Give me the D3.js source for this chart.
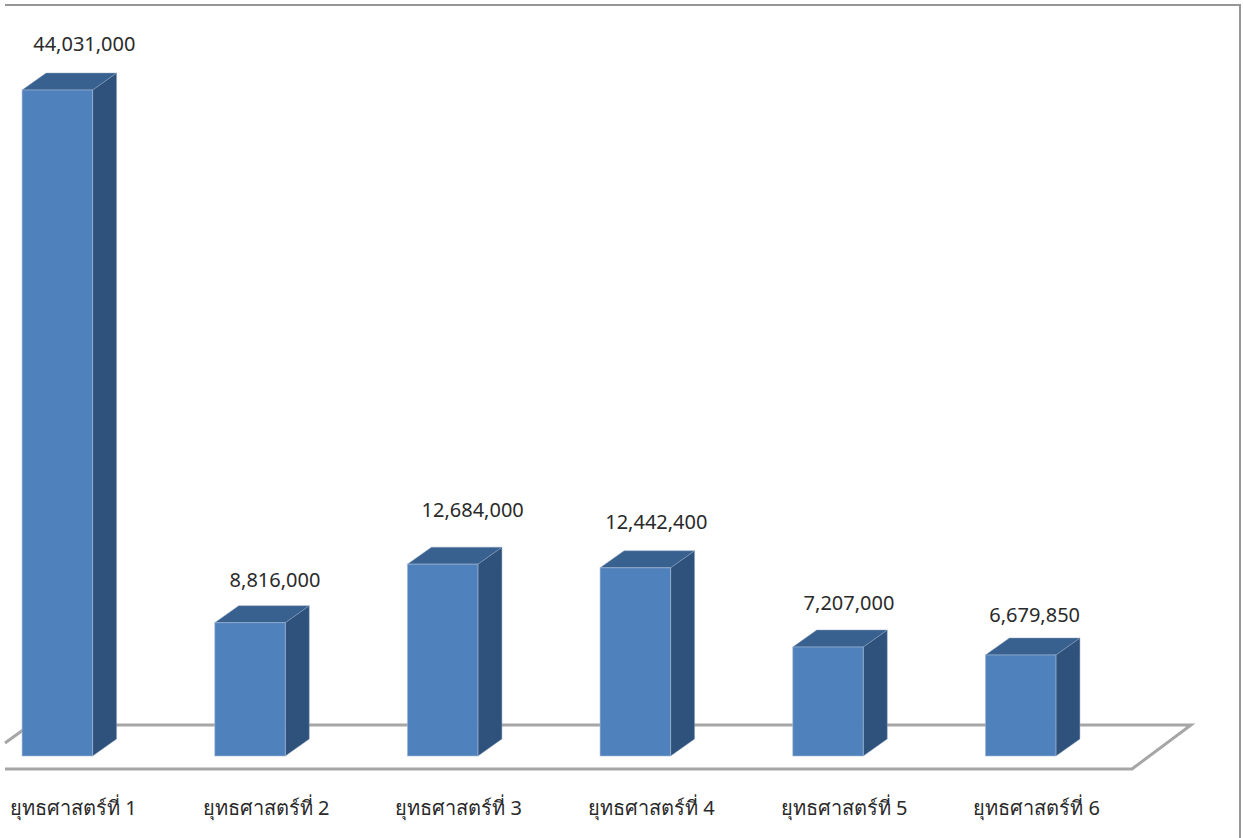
<!DOCTYPE html>
<html>
<head>
<meta charset="utf-8">
<script src="https://d3js.org/d3.v7.min.js"></script>
<style>
body { margin: 0; background: #fff; }
text { font-family: "Noto Sans", "DejaVu Sans", sans-serif; fill: #2a2a2a; }
</style>
</head>
<body>
<div id="chart"></div>
<script>
// chart data
const categories = ["ยุทธศาสตร์ที่ 1", "ยุทธศาสตร์ที่ 2", "ยุทธศาสตร์ที่ 3", "ยุทธศาสตร์ที่ 4", "ยุทธศาสตร์ที่ 5", "ยุทธศาสตร์ที่ 6"];
const values = [44031000, 8816000, 12684000, 12442400, 7207000, 6679850];

const w = 1243;
const h = 838;
const baseY = 756;
const depthX = 24;
const depthY = -17;

// the value labels were moved by hand in the original, so each has its own nudge
const labelDx = [27, 25, 30, 21, 21, 14];
const labelDy = [46, 43, 54, 46, 44, 40];

const svg = d3.select("#chart").append("svg")
    .attr("width", w)
    .attr("height", h)
    .style("display", "block");

const x = d3.scaleBand()
    .domain(categories)
    .range([-39, 1117])
    .paddingInner(0.634)
    .paddingOuter(0.317);

const y = d3.scaleLinear()
    .domain([0, 44031000])
    .range([baseY, 90]);

// outer frame, only top and right show in the picture
svg.append("path")
    .attr("d", "M5,5H1240V838")
    .attr("fill", "none")
    .attr("stroke", "#969696")
    .attr("stroke-width", 2);

// floor of the 3d chart
svg.append("path")
    .attr("d", "M5,743L30,725H1191L1132,769H5")
    .attr("fill", "none")
    .attr("stroke", "#a6a6a6")
    .attr("stroke-width", 3)
    .attr("stroke-linejoin", "miter");

const bars = svg.selectAll("g.bar")
    .data(values)
    .enter()
    .append("g")
    .attr("class", "bar");

// side face
bars.append("path")
    .attr("fill", "#2f527c")
    .attr("stroke", "#8ea4bf")
    .attr("stroke-opacity", 0.45)
    .attr("d", function(d, i) {
        const x1 = x(categories[i]) + x.bandwidth();
        return "M" + x1 + "," + y(d) + "l" + depthX + "," + depthY + "V" + (baseY + depthY) + "l" + (-depthX) + "," + (-depthY) + "Z";
    });

// top face
bars.append("path")
    .attr("fill", "#38618f")
    .attr("stroke", "#8ea4bf")
    .attr("stroke-opacity", 0.45)
    .attr("d", function(d, i) {
        const x0 = x(categories[i]);
        return "M" + x0 + "," + y(d) + "l" + depthX + "," + depthY + "h" + x.bandwidth() + "l" + (-depthX) + "," + (-depthY) + "Z";
    });

// front face
bars.append("rect")
    .attr("x", (d, i) => x(categories[i]))
    .attr("y", d => y(d))
    .attr("width", x.bandwidth())
    .attr("height", d => baseY - y(d))
    .attr("fill", "#4f81bd")
    .attr("stroke", "#a9bdd6")
    .attr("stroke-opacity", 0.6);

// value labels
bars.append("text")
    .attr("x", (d, i) => x(categories[i]) + x.bandwidth() / 2 + labelDx[i])
    .attr("y", (d, i) => y(d) - labelDy[i])
    .attr("dy", "0.36em")
    .attr("text-anchor", "middle")
    .style("font-size", "20px")
    .text(d => d3.format(",")(d));

// category labels
const xAxis = d3.axisBottom(x).tickSize(0);
const axisG = svg.append("g")
    .attr("transform", "translate(16,790)")
    .call(xAxis);
axisG.select(".domain").remove();
axisG.selectAll("text")
    .attr("y", 18)
    .attr("dy", "0.36em")
    .style("font-size", "20px")
    .style("font-family", "'Noto Sans', 'DejaVu Sans', sans-serif")
    .style("fill", "#2a2a2a");
</script>
</body>
</html>
